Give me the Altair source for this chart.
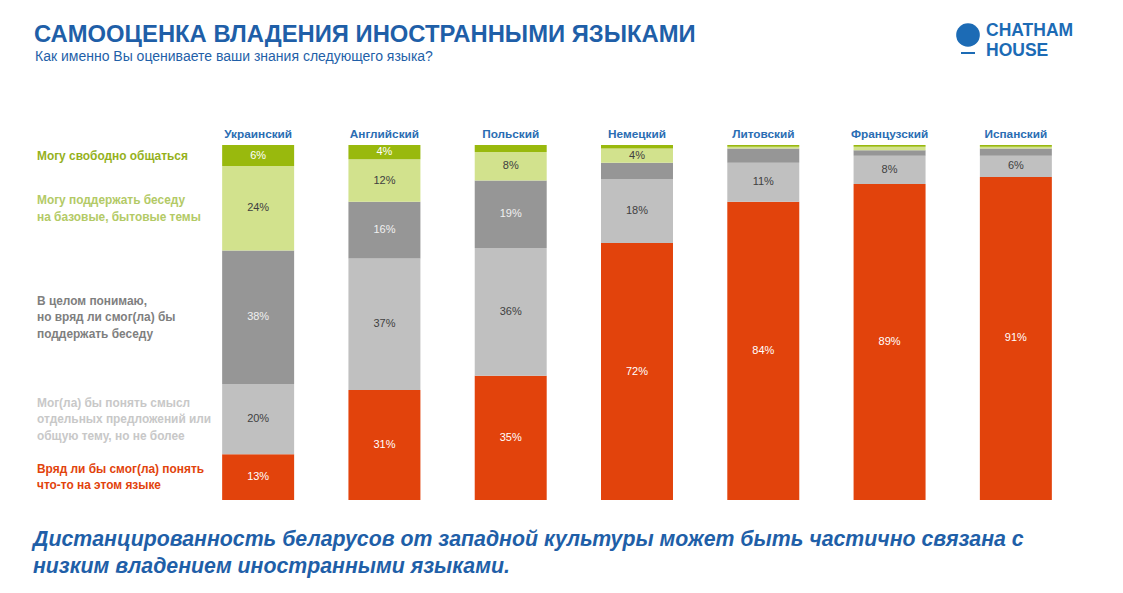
import altair as alt
import pandas as pd

languages = ["Украинский", "Английский", "Польский", "Немецкий", "Литовский", "Французский", "Испанский"]

levels = [
    "Могу свободно общаться",
    "Могу поддержать беседу\nна базовые, бытовые темы",
    "В целом понимаю,\nно вряд ли смог(ла) бы\nподдержать беседу",
    "Мог(ла) бы понять смысл\nотдельных предложений или\nобщую тему, но не более",
    "Вряд ли бы смог(ла) понять\nчто-то на этом языке",
]

fluent = [6, 4, 2, 1, 0.5, 0.5, 0.5]
basic = [24, 12, 8, 4, 0.5, 1, 0.5]
understand = [38, 16, 19, 4.5, 4, 1.5, 2]
sentences = [20, 37, 36, 18, 11, 8, 6]
nothing = [13, 31, 35, 72, 84, 89, 91]

shown_fluent = [True, True, False, False, False, False, False]
shown_basic = [True, True, True, True, False, False, False]
shown_understand = [True, True, True, False, False, False, False]
shown_sentences = [True] * 7
shown_nothing = [True] * 7

bar_colors = ["#99b90d", "#d2e28d", "#969696", "#c0c0c0", "#e2430c"]
legend_colors = ["#95b11c", "#b3ca66", "#7f7f7f", "#c8c8c8", "#e2430c"]
value_text_colors = ["#ffffff", "#404040", "#f0f0f0", "#404040", "#ffffff"]

series = [fluent, basic, understand, sentences, nothing]
shown = [shown_fluent, shown_basic, shown_understand, shown_sentences, shown_nothing]

rows = []
for li, lang in enumerate(languages):
    total = sum(s[li] for s in series)
    cum = 0.0
    # stack from the bottom (last level) to the top (first level)
    for k in range(len(levels) - 1, -1, -1):
        v = series[k][li]
        y0 = cum / total
        cum += v
        y1 = cum / total
        rows.append({
            "lang": lang,
            "level": levels[k],
            "nlines": levels[k].count("\n") + 1,
            "value": v,
            "y0": y0,
            "y1": y1,
            "ymid": (y0 + y1) / 2,
            "label": f"{v:g}%" if shown[k][li] else "",
            "bar_color": bar_colors[k],
            "txt_color": value_text_colors[k],
            "leg_color": legend_colors[k],
        })
df = pd.DataFrame(rows)

BLUE = "#1f5fa8"
HEAD_BLUE = "#2a6db3"
LOGO_BLUE = "#1c6bb5"
FONT = "Liberation Sans"

xscale = alt.Scale(domain=languages, range=[187, 1071], paddingInner=0.43, paddingOuter=0.215)
yscale = alt.Scale(domain=[0, 1], range=[492, 137])

base = alt.Chart(df)

bars = base.mark_bar().encode(
    x=alt.X("lang:N", scale=xscale, axis=None),
    y=alt.Y("y0:Q", scale=yscale, axis=None),
    y2="y1:Q",
    color=alt.Color("bar_color:N", scale=None, legend=None),
)

values = base.mark_text(font=FONT, fontSize=11, baseline="middle", align="center").encode(
    x=alt.X("lang:N", scale=xscale, axis=None),
    y=alt.Y("ymid:Q", scale=yscale, axis=None),
    text="label:N",
    color=alt.Color("txt_color:N", scale=None, legend=None),
)

headers = alt.Chart(pd.DataFrame({"lang": languages})).mark_text(
    font=FONT, fontSize=11.8, fontWeight="bold", color=HEAD_BLUE, baseline="middle", align="center"
).encode(
    x=alt.X("lang:N", scale=xscale, axis=None),
    y=alt.value(126),
    text="lang:N",
)

legend_df = df[df["lang"] == languages[0]].copy()
legend_df["lines"] = legend_df["level"].str.split("\n")
LH = 16.5
legend_layers = []
for n in sorted(legend_df["nlines"].unique()):
    sub = legend_df[legend_df["nlines"] == n]
    legend_layers.append(
        alt.Chart(sub).mark_text(
            font=FONT, fontSize=11.9, fontWeight="bold", baseline="middle", align="left",
            lineHeight=LH, dy=-(n - 1) * LH / 2
        ).encode(
            x=alt.value(29),
            y=alt.Y("ymid:Q", scale=yscale, axis=None),
            text="lines",
            color=alt.Color("leg_color:N", scale=None, legend=None),
        )
    )

one = pd.DataFrame({"a": [0]})

title = alt.Chart(one).mark_text(
    text="САМООЦЕНКА ВЛАДЕНИЯ ИНОСТРАННЫМИ ЯЗЫКАМИ", font=FONT, fontSize=23.8, fontWeight="bold",
    color=BLUE, align="left", baseline="alphabetic"
).encode(x=alt.value(26), y=alt.value(34))

subtitle = alt.Chart(one).mark_text(
    text="Как именно Вы оцениваете ваши знания следующего языка?", font=FONT, fontSize=14,
    color=BLUE, align="left", baseline="alphabetic"
).encode(x=alt.value(27), y=alt.value(53))

footer = alt.Chart(one).mark_text(
    text=["Дистанцированность беларусов от западной культуры может быть частично связана с",
          "низким владением иностранными языками."],
    font=FONT, fontSize=21.3, fontWeight="bold", fontStyle="italic", lineHeight=27,
    color=BLUE, align="left", baseline="alphabetic"
).encode(x=alt.value(25), y=alt.value(538))

globe = alt.Chart(one).mark_point(
    shape="circle", filled=True, size=560, color=LOGO_BLUE, opacity=1
).encode(x=alt.value(960), y=alt.value(27))

globe_stand = alt.Chart(one).mark_rule(color=LOGO_BLUE, strokeWidth=2).encode(
    x=alt.value(953), x2=alt.value(967), y=alt.value(45)
)

logo = alt.Chart(one).mark_text(
    text=["CHATHAM", "HOUSE"], font=FONT, fontSize=17.5, fontWeight="bold", lineHeight=20,
    color=LOGO_BLUE, align="left", baseline="alphabetic"
).encode(x=alt.value(978), y=alt.value(28))

chart = alt.layer(
    bars, values, headers, *legend_layers, title, subtitle, footer, globe, globe_stand, logo
).properties(
    width=1107, height=577,
    autosize=alt.AutoSizeParams(type="none"),
    padding=0,
    background="white",
).configure_view(stroke=None)

chart.save("out.html", embed_options={"renderer": "svg", "actions": False})
